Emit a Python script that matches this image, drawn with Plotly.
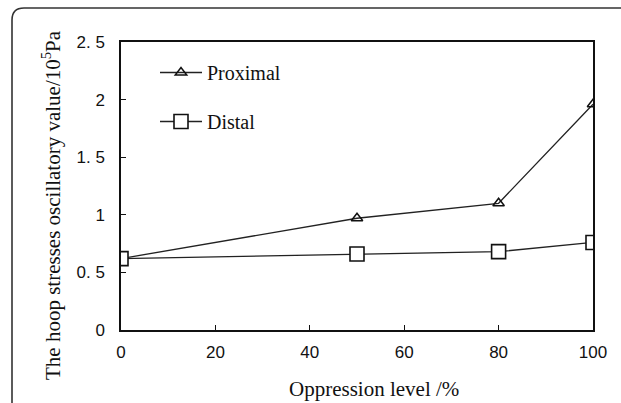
import plotly.graph_objects as go

# Data
oppression = [0, 50, 80, 100]
proximal = [0.62, 0.97, 1.10, 1.96]
distal = [0.62, 0.66, 0.68, 0.76]

y_tickvals = [0, 0.5, 1, 1.5, 2, 2.5]
y_ticktext = ["0", "0. 5", "1", "1. 5", "2", "2. 5"]
x_tickvals = [0, 20, 40, 60, 80, 100]

W, H = 621, 403
L, R, T, B = 121, 593, 42, 330  # plot area in pixels

def px(x):
    return (x - L) / (R - L)

def py(y):
    return (B - y) / (B - T)

fig = go.Figure()
fig.add_trace(go.Scatter(
    x=oppression, y=proximal, name="Proximal", mode="lines+markers",
    line=dict(color="#222", width=1.3),
    marker=dict(symbol="triangle-up-open", size=10, color="#111", line=dict(width=1.5)),
    legendgroup="a",
))
fig.add_trace(go.Scatter(
    x=oppression, y=distal, name="Distal", mode="lines+markers",
    line=dict(color="#222", width=1.3),
    marker=dict(symbol="square", size=14, color="white", line=dict(color="#111", width=1.6)),
    legendgroup="b",
))

serif = "Liberation Serif, Times New Roman, serif"
sans = "Liberation Sans, Arial, sans-serif"

fig.update_layout(
    width=W, height=H,
    margin=dict(l=L, r=W - R, t=T, b=H - B),
    paper_bgcolor="white", plot_bgcolor="white",
    showlegend=True,
    legend=dict(x=px(155), y=py(53), xanchor="left", yanchor="top",
                font=dict(family=serif, size=20, color="#111"),
                bgcolor="rgba(0,0,0,0)", tracegroupgap=20, itemwidth=42),
    xaxis=dict(range=[0, 100], tickvals=x_tickvals, ticks="inside", ticklen=5,
               tickcolor="#111", showline=True, linecolor="#111", linewidth=1.5,
               mirror=True, showgrid=False, zeroline=False,
               tickfont=dict(family=sans, size=17, color="#111"),
               ticklabelstandoff=6),
    yaxis=dict(range=[0, 2.5], tickvals=y_tickvals, ticktext=y_ticktext,
               ticks="inside", ticklen=5, tickcolor="#111", showline=True,
               linecolor="#111", linewidth=1.5, mirror=True, showgrid=False,
               zeroline=False, tickfont=dict(family=sans, size=17, color="#111"),
               ticklabelstandoff=11),
    annotations=[
        dict(text="Oppression level /%", x=px(374), y=py(389), xref="paper", yref="paper",
             showarrow=False, font=dict(family=serif, size=21, color="#111"),
             xanchor="center", yanchor="middle"),
        dict(text="The hoop stresses oscillatory value/10<sup>5</sup>Pa", x=px(51), y=py(205),
             xref="paper", yref="paper", showarrow=False, textangle=-90,
             font=dict(family=serif, size=21, color="#111"),
             xanchor="center", yanchor="middle"),
    ],
    shapes=[
        dict(type="path", xref="paper", yref="paper",
             path=f"M {px(12)},{py(410)} L {px(12)},{py(20)} Q {px(12)},{py(8)} {px(24)},{py(8)} L {px(625)},{py(8)}",
             line=dict(color="#333", width=1.6)),
    ],
)

fig.write_html("out.html", config={"displayModeBar": False},
               post_script="document.body.style.margin='0';")
